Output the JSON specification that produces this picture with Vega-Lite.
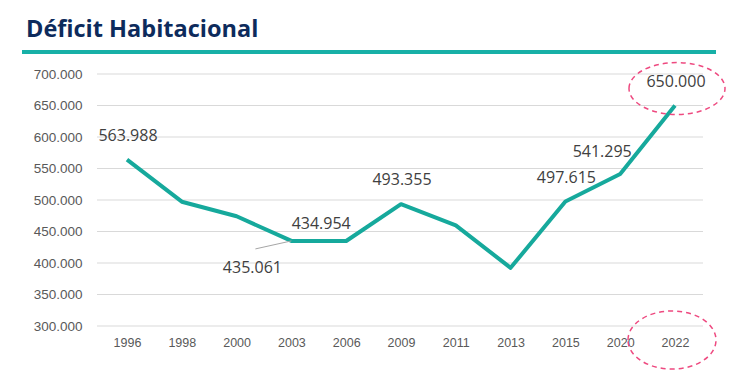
{
  "$schema": "https://vega.github.io/schema/vega-lite/v6.json",
  "width": 694,
  "height": 252,
  "autosize": {"type": "none"},
  "padding": {"left": 22, "top": 74, "right": 36, "bottom": 51},
  "background": "white",
  "title": {
    "text": "Déficit Habitacional",
    "anchor": "start",
    "font": "Open Sans",
    "fontSize": 23.5,
    "fontWeight": "bold",
    "color": "#0d2b5c",
    "dx": 6,
    "offset": -10,
    "baseline": "alphabetic"
  },
  "config": {
    "view": {"stroke": null},
    "locale": {"number": {"decimal": ",", "thousands": ".", "grouping": [3], "currency": ["", ""]}}
  },
  "data": {
    "values": [
      {"year": "1996", "value": 563988},
      {"year": "1998", "value": 497300},
      {"year": "2000", "value": 474200},
      {"year": "2003", "value": 435061},
      {"year": "2006", "value": 434954},
      {"year": "2009", "value": 493355},
      {"year": "2011", "value": 459700},
      {"year": "2013", "value": 392300},
      {"year": "2015", "value": 497615},
      {"year": "2020", "value": 541295},
      {"year": "2022", "value": 650000}
    ]
  },
  "encoding": {
    "x": {
      "field": "year",
      "type": "ordinal",
      "scale": {"type": "point", "padding": 0, "range": [105, 653]},
      "axis": {
        "orient": "bottom",
        "domain": false,
        "ticks": false,
        "grid": false,
        "title": null,
        "labelAngle": 0,
        "labelFont": "Liberation Sans",
        "labelFontSize": 12.5,
        "labelFontWeight": "normal",
        "labelColor": "#595959",
        "labelPadding": 10
      }
    },
    "y": {
      "field": "value",
      "type": "quantitative",
      "scale": {"domain": [300000, 700000], "nice": false, "zero": false},
      "axis": {
        "orient": "left",
        "offset": -60,
        "domain": false,
        "ticks": false,
        "grid": false,
        "title": null,
        "values": [300000, 350000, 400000, 450000, 500000, 550000, 600000, 650000, 700000],
        "format": ",d",
        "labelFont": "Liberation Sans",
        "labelFontSize": 13.5,
        "labelFontWeight": "normal",
        "labelColor": "#595959",
        "labelPadding": 0
      }
    }
  },
  "layer": [
    {
      "data": {"values": [{"g": 300000}, {"g": 350000}, {"g": 400000}, {"g": 450000}, {"g": 500000}, {"g": 550000}, {"g": 600000}, {"g": 650000}, {"g": 700000}]},
      "mark": {"type": "rule", "color": "#d9d9d9", "strokeWidth": 1, "xOffset": -30, "x2Offset": 28},
      "encoding": {
        "x": {"datum": "1996"},
        "x2": {"datum": "2022"},
        "y": {"field": "g", "type": "quantitative"}
      }
    },
    {
      "mark": {"type": "line", "color": "#16a99c", "strokeWidth": 4, "strokeJoin": "round"}
    },
    {
      "data": {"values": [{"g": 700000}]},
      "mark": {"type": "rule", "color": "#17b0a7", "strokeWidth": 4, "strokeCap": "butt", "xOffset": -105, "x2Offset": 41, "yOffset": -22},
      "encoding": {
        "x": {"datum": "1996"},
        "x2": {"datum": "2022"},
        "y": {"field": "g", "type": "quantitative"}
      }
    },
    {
      "transform": [{"filter": {"field": "year", "oneOf": ["2003"]}}],
      "mark": {"type": "rule", "color": "#a6a6a6", "strokeWidth": 1, "xOffset": -36, "yOffset": 8},
      "encoding": {
        "x2": {"field": "year"},
        "y2": {"field": "value"}
      }
    },
    {
      "transform": [{"filter": {"field": "year", "oneOf": ["1996", "2009", "2015", "2022"]}}],
      "mark": {"type": "text", "font": "Open Sans", "fontSize": 16, "color": "#404040", "dy": -24, "dx": 1},
      "encoding": {"text": {"field": "value", "type": "quantitative", "format": ",d"}}
    },
    {
      "transform": [{"filter": {"field": "year", "oneOf": ["2003"]}}],
      "mark": {"type": "text", "font": "Open Sans", "fontSize": 16, "color": "#404040", "dy": 27, "dx": -39},
      "encoding": {"text": {"field": "value", "type": "quantitative", "format": ",d"}}
    },
    {
      "transform": [{"filter": {"field": "year", "oneOf": ["2006"]}}],
      "mark": {"type": "text", "font": "Open Sans", "fontSize": 16, "color": "#404040", "dy": -17, "dx": -25},
      "encoding": {"text": {"field": "value", "type": "quantitative", "format": ",d"}}
    },
    {
      "transform": [{"filter": {"field": "year", "oneOf": ["2020"]}}],
      "mark": {"type": "text", "font": "Open Sans", "fontSize": 16, "color": "#404040", "dy": -22, "dx": -18},
      "encoding": {"text": {"field": "value", "type": "quantitative", "format": ",d"}}
    },
    {
      "transform": [{"filter": {"field": "year", "oneOf": ["2022"]}}],
      "mark": {
        "type": "point",
        "shape": "M-1,0A1,0.54,0,1,1,1,0A1,0.54,0,1,1,-1,0Z",
        "size": 9216,
        "filled": false,
        "stroke": "#ee4a80",
        "strokeWidth": 1.5,
        "strokeDash": [5, 4],
        "opacity": 1,
        "xOffset": 2,
        "yOffset": -17
      }
    },
    {
      "transform": [{"filter": {"field": "year", "oneOf": ["2022"]}}],
      "mark": {
        "type": "point",
        "shape": "M-1,0A1,0.66,0,1,1,1,0A1,0.66,0,1,1,-1,0Z",
        "size": 7744,
        "filled": false,
        "stroke": "#ee4a80",
        "strokeWidth": 1.5,
        "strokeDash": [5, 4],
        "opacity": 1,
        "xOffset": -3,
        "yOffset": 14
      },
      "encoding": {"y": {"datum": 300000}}
    }
  ]
}
